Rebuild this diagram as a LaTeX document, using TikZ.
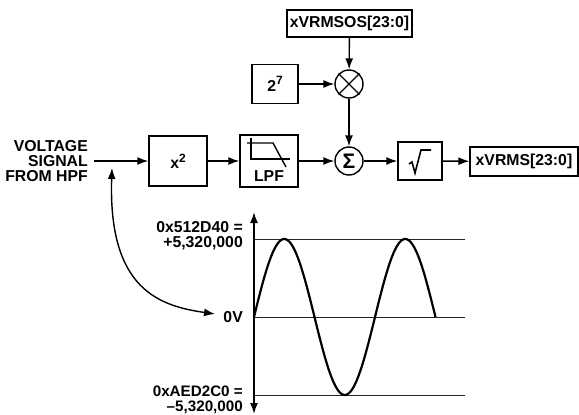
\documentclass[tikz,border=0pt]{standalone}
\usepackage{fontspec}
\setmainfont{Liberation Sans}
\usetikzlibrary{arrows.meta}
\newcommand{\supx}[1]{\raisebox{0.4em}{\fontsize{12}{12}\selectfont #1}}
\begin{document}
\begin{tikzpicture}[x=1pt,y=-1pt,
  every node/.style={font=\fontsize{15.8}{15}\selectfont\bfseries},
  blk/.style={draw,line width=1.4pt,inner sep=0pt},
  ring/.style={draw,circle,line width=1.4pt,minimum size=28pt,inner sep=0pt},
  conn/.style={line width=1.4pt,-{Latex[length=11pt,width=8pt]}},
  lbl/.style={inner sep=0pt,align=right},
  guide/.style={line width=0.9pt,black!85},
  icon/.style={line width=1.4pt}
  ]
\useasboundingbox (0,0) rectangle (579,415);
% blocks
\node[blk,minimum width=125pt,minimum height=27pt] (os) at (349.5,23.5) {xVRMSOS[23:0]};
\node[blk,minimum width=46pt,minimum height=39pt] (p7) at (275,84) {2\supx{7}};
\node[ring] (mul) at (349,84) {};
\draw[icon] (mul.45)--(mul.225) (mul.135)--(mul.315);
\node[blk,minimum width=58pt,minimum height=50pt] (sq) at (178,161) {x\supx{2}};
\node[blk,minimum width=58pt,minimum height=52pt] (lpf) at (269,161) {};
\node[anchor=base,inner sep=0pt] (lpft) at (269,181) {LPF};
\draw[icon] (247,143)--(273,143)--(286,167);
\draw[icon] (251,138)--(251,159)--(290,159);
\node[ring,font=\fontsize{21}{21}\selectfont\bfseries] (sum) at (349,161) {Σ};
\node[blk,minimum width=44pt,minimum height=38pt] (rt) at (420,161) {};
\draw[line width=1.6pt,line join=miter] (409,164)--(412,162)--(415,173)--(421,150)--(431,150);
\node[blk,minimum width=108pt,minimum height=29pt] (out) at (524,161.5) {xVRMS[23:0]};
\node[lbl,anchor=east] (in) at (88,161) {VOLTAGE\\SIGNAL\\FROM HPF};
% connectors
\draw[conn,shorten <=6pt] (in.east) -- (sq.west);
\draw[conn] (sq) -- (lpf);
\draw[conn] (lpf) -- (sum);
\draw[conn] (sum) -- (rt);
\draw[conn] (rt) -- (out);
\draw[conn] (p7) -- (mul);
\draw[conn] (os) -- (mul);
\draw[conn] (mul) -- (sum);
% waveform
\coordinate (axt) at (254,212);
\coordinate (axb) at (254,414);
\draw[guide] (254,239) -- (465,239);
\draw[guide] (254,317) -- (465,317);
\draw[guide] (254,395) -- (465,395);
\draw[line width=1.7pt,{Latex[length=11pt,width=8pt]}-{Latex[length=11pt,width=8pt]}] (axb) -- (axt);
\draw[line width=2.2pt,line join=round] plot[domain=0:181.5,samples=150] ({254+\x},{317-78*sin(\x*2.975207)});
\node[lbl,anchor=north east] (ltop) at (243,221.5) {0x512D40 =\\+5,320,000};
\node[lbl,anchor=east] (lzero) at (243,317) {0V};
\node[lbl,anchor=north east,font=\fontsize{15.2}{14.6}\selectfont\bfseries] (lbot) at (243,386) {0xAED2C0 =\\–5,320,000};
% curved arrow
\coordinate (c1) at (112,168);
\coordinate (c2) at (215,314);
\draw[line width=1.4pt,{Latex[length=11pt,width=8pt]}-{Latex[length=11pt,width=8pt]}] (c1) .. controls (108,290) and (160,306) .. (c2);
\end{tikzpicture}
\end{document}
